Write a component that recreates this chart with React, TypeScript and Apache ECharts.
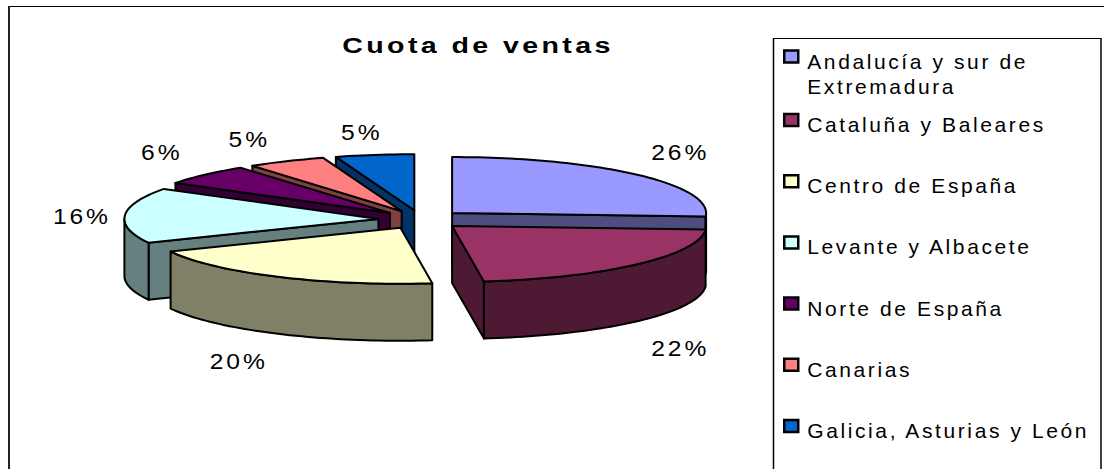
import React, { useEffect, useRef } from 'react';
import * as echarts from 'echarts';

// ---- data ----
const TITLE = 'Cuota de ventas';
const REGIONS = [
  'Andalucía y sur de Extremadura',
  'Cataluña y Baleares',
  'Centro de España',
  'Levante y Albacete',
  'Norte de España',
  'Canarias',
  'Galicia, Asturias y León',
];
const LEGEND_LINES = [
  ['Andalucía y sur de', 'Extremadura'],
  ['Cataluña y Baleares'],
  ['Centro de España'],
  ['Levante y Albacete'],
  ['Norte de España'],
  ['Canarias'],
  ['Galicia, Asturias y León'],
];
const SHARES = [26, 22, 20, 16, 6, 5, 5];

// ---- styles ----
const TOP_COLORS = ['#9999FF', '#993366', '#FFFFCC', '#CCFFFF', '#660066', '#FF8080', '#0066CC'];
const SIDE_COLORS = ['#4D4D80', '#4D1933', '#808066', '#668080', '#330033', '#804040', '#003366'];
const FONT = '"Liberation Sans", Arial, Helvetica, sans-serif';

// ---- geometry of the 3D pie ----
const CX = 421;
const CY = 219.5;
const RX = 254;
const RY = 56;
const DEPTH = 57;
const EXPLODE = 0.168;
const RAD = Math.PI / 180;

const TOTAL = SHARES.reduce((a, b) => a + b, 0);
const START: number[] = [];
{
  let acc = 0;
  SHARES.forEach((v) => {
    START.push(90 - (360 * acc) / TOTAL);
    acc += v;
  });
}
const MID = SHARES.map((v, i) => START[i] - (180 * v) / TOTAL);
// paint back-to-front
const ORDER = SHARES.map((_, i) => i).sort((a, b) => Math.sin(MID[b] * RAD) - Math.sin(MID[a] * RAD));

function buildSlice(i: number, value: number) {
  const a0 = START[i];
  const a1 = a0 - (360 * value) / TOTAL;
  const m = (a0 + a1) / 2;
  const cm = Math.cos(m * RAD);
  const sm = Math.sin(m * RAD);
  const cx = CX + EXPLODE * RX * cm;
  const cy = CY - EXPLODE * RY * sm;
  const rim = (deg: number, dz = 0) => [cx + RX * Math.cos(deg * RAD), cy - RY * Math.sin(deg * RAD) + dz];
  const arc = (from: number, to: number, dz: number) => {
    const n = Math.max(2, Math.ceil(Math.abs(to - from) / 1.5));
    const pts: number[][] = [];
    for (let k = 0; k <= n; k++) pts.push(rim(from + ((to - from) * k) / n, dz));
    return pts;
  };
  const stroke = { stroke: '#000', lineWidth: 2, lineJoin: 'round' };
  const side = { ...stroke, fill: SIDE_COLORS[i] };
  const children: any[] = [];
  if (Math.cos(a0 * RAD) < -1e-6) {
    children.push({
      type: 'polygon',
      shape: { points: [[cx, cy], rim(a0), rim(a0, DEPTH), [cx, cy + DEPTH]] },
      style: side,
    });
  }
  if (Math.cos(a1 * RAD) > 1e-6) {
    children.push({
      type: 'polygon',
      shape: { points: [[cx, cy], rim(a1), rim(a1, DEPTH), [cx, cy + DEPTH]] },
      style: side,
    });
  }
  for (const k of [-1, 0, 1]) {
    const lo = Math.max(a1, -180 + 360 * k);
    const hi = Math.min(a0, 360 * k);
    if (hi - lo > 0.01) {
      children.push({
        type: 'polygon',
        shape: { points: [...arc(lo, hi, 0), ...arc(hi, lo, DEPTH)] },
        style: side,
      });
    }
  }
  children.push({
    type: 'polygon',
    shape: { points: [[cx, cy], ...arc(a0, a1, 0)] },
    style: { ...stroke, fill: TOP_COLORS[i] },
  });
  // percentage label
  const base = rim(m, sm < 0 ? DEPTH : 0);
  const dx = 43 * Math.sign(cm) * Math.min(1, Math.abs(cm) * 1.9);
  const f = Math.min(1, Math.abs(sm) * 1.5);
  const dy = sm >= 0 ? -22 * f + 4 * (1 - f) : 27.5;
  children.push({
    type: 'text',
    x: base[0] + dx,
    y: base[1] + dy,
    scaleX: 1.12,
    style: {
      text: Math.round((value / TOTAL) * 100) + '%',
      font: '22px ' + FONT,
      fill: '#000',
      align: 'center',
      verticalAlign: 'middle',
    },
  });
  return { type: 'group', children };
}

export default function App() {
  const ref = useRef<HTMLDivElement>(null);
  useEffect(() => {
    if (!ref.current) return;
    const chart = echarts.init(ref.current, undefined, { renderer: 'svg' });
    const legendText = (name: string) => {
      const lines = LEGEND_LINES[REGIONS.indexOf(name)];
      return ['{s| }'].concat(lines.map((l) => '{a|' + l + '}')).join('\n');
    };
    const legendCommon = {
      orient: 'vertical',
      left: 783,
      padding: 0,
      icon: 'rect',
      itemWidth: 14,
      itemHeight: 12,
      selectedMode: false,
      itemStyle: { borderColor: '#000', borderWidth: 2.5 },
      formatter: legendText,
    };
    const textBase = { fontSize: 21, fontFamily: FONT, color: '#000', padding: [0, 0, 0, 4] };
    chart.setOption({
      animation: false,
      backgroundColor: '#ffffff',
      legend: [
        {
          ...legendCommon,
          data: [REGIONS[0]],
          top: 21,
          textStyle: {
            ...textBase,
            rich: {
              s: { fontSize: 21, fontFamily: FONT, lineHeight: 35 },
              a: { fontSize: 21, fontFamily: FONT, color: '#000', lineHeight: 25 },
            },
          },
        },
        {
          ...legendCommon,
          data: REGIONS.slice(1),
          top: 97,
          itemGap: 23.2,
          textStyle: {
            ...textBase,
            rich: {
              s: { fontSize: 21, fontFamily: FONT, lineHeight: 9 },
              a: { fontSize: 21, fontFamily: FONT, color: '#000', lineHeight: 25 },
            },
          },
        },
      ],
      graphic: [
        { type: 'line', shape: { x1: 8, y1: 6.5, x2: 1104, y2: 6.5 }, style: { stroke: '#000', lineWidth: 1 } },
        { type: 'line', shape: { x1: 9, y1: 6, x2: 9, y2: 469 }, style: { stroke: '#222', lineWidth: 2 } },
        { type: 'line', shape: { x1: 773, y1: 38.5, x2: 1101, y2: 38.5 }, style: { stroke: '#000', lineWidth: 1 } },
        { type: 'line', shape: { x1: 773.5, y1: 38, x2: 773.5, y2: 469 }, style: { stroke: '#000', lineWidth: 1.5 } },
        { type: 'line', shape: { x1: 1101, y1: 38, x2: 1101, y2: 469 }, style: { stroke: '#000', lineWidth: 1.5 } },
        {
          type: 'text',
          x: 478,
          y: 45,
          scaleX: 1.3,
          style: {
            text: TITLE,
            font: 'bold 22px ' + FONT,
            fill: '#000',
            align: 'center',
            verticalAlign: 'middle',
          },
        },
      ],
      series: ORDER.map((i) => ({
        type: 'custom',
        name: REGIONS[i],
        coordinateSystem: 'none',
        silent: true,
        data: [SHARES[i]],
        itemStyle: { color: TOP_COLORS[i], borderColor: '#000', borderWidth: 2 },
        renderItem: (_params: any, api: any) => buildSlice(i, api.value(0) as number),
      })),
    });
    return () => chart.dispose();
  }, []);
  return (
    <div
      ref={ref}
      style={{ position: 'absolute', left: 0, top: 0, width: 1104, height: 469, letterSpacing: '2.6px' }}
    />
  );
}
